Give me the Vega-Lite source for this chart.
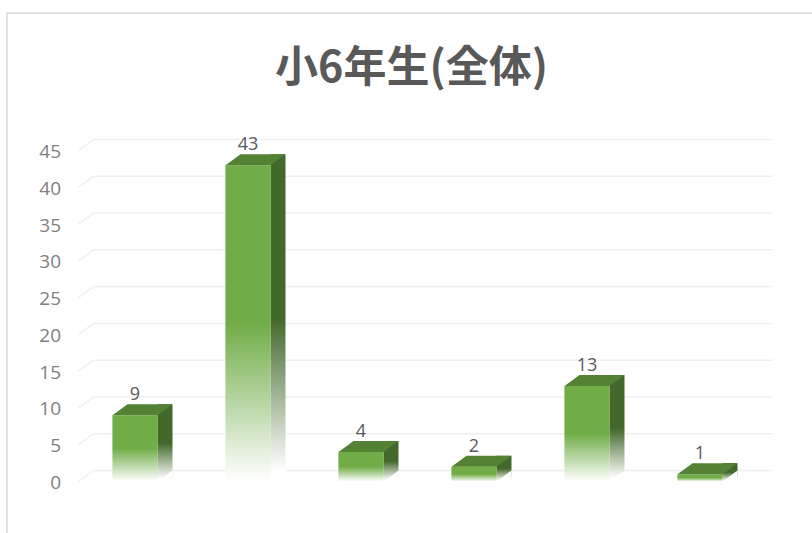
{
"$schema":"https://vega.github.io/schema/vega-lite/v6.json",
"width":678,"height":331,
"autosize":{"type":"none"},
"padding":{"left":78.5,"top":150.5,"right":55.5,"bottom":51.5},
"background":"white",
"config":{"view":{"stroke":null},"axisY":{"labelOverlap":false,"title":null,"grid":false,"domain":false,"ticks":false,"labelFont":"Open Sans","labelFontSize":19,"labelColor":"#7F7F7F","labelPadding":18,"labelOffset":1}},
"title":{"text":"小6年生(全体)","font":"Noto Sans CJK JP","fontSize":43,"fontWeight":"bold","color":"#595959","anchor":"middle","dx":-6,"offset":-81},
"datasets":{
"bars":[{"category":"1","value":9},{"category":"2","value":43},{"category":"3","value":4},{"category":"4","value":2},{"category":"5","value":13},{"category":"6","value":1}],
"ticks":[{"tick":0},{"tick":5},{"tick":10},{"tick":15},{"tick":20},{"tick":25},{"tick":30},{"tick":35},{"tick":40},{"tick":45}],
"frame":[{"part":"border"}]
},
"encoding":{"y":{"type":"quantitative","scale":{"domain":[0,45]},"axis":{"values":[0,5,10,15,20,25,30,35,40,45],"labelOverlap":false,"title":null}}},
"layer":[
{"data":{"name":"frame"},"mark":{"type":"point","shape":"M-4.105,2.17L-4.105,-3.03L3.945,-3.03","filled":false,"size":40000,"stroke":"#D9D9D9","strokeWidth":1.5,"opacity":1},"encoding":{"y":{"datum":22.5}}},
{"data":{"name":"ticks"},"mark":{"type":"point","shape":"M-3.39,0L-3.24,-0.11L3.55,-0.11","filled":false,"size":40000,"stroke":"#F0F0F0","strokeWidth":1.5,"opacity":1},
"encoding":{"y":{"field":"tick","type":"quantitative"}}},
{"data":{"name":"bars"},"mark":{"type":"bar","width":15,"xOffset":30,"yOffset":-11,"y2Offset":0,"color":{"gradient":"linear","x1":0,"y1":0,"x2":0,"y2":1,"stops":[{"offset":0,"color":"#43682B"},{"offset":0.5,"color":"#43682B"},{"offset":0.97,"color":"#FFFFFF"},{"offset":1,"color":"#FFFFFF"}]}},
"encoding":{"x":{"field":"category","type":"nominal","scale":{"paddingInner":0.6,"paddingOuter":0.3},"axis":null},"y":{"field":"value","type":"quantitative"},"y2":{"datum":0}}},
{"data":{"name":"bars"},"mark":{"type":"point","shape":"M0.225,0L0.375,0L0.375,-0.11Z","filled":true,"size":40000,"color":"#FFFFFF","strokeWidth":0,"opacity":1},
"encoding":{"x":{"field":"category","type":"nominal","axis":null},"y":{"datum":0}}},
{"data":{"name":"bars"},"mark":{"type":"bar","color":{"gradient":"linear","x1":0,"y1":0,"x2":0,"y2":1,"stops":[{"offset":0,"color":"#70AD47"},{"offset":0.5,"color":"#70AD47"},{"offset":1,"color":"#FFFFFF"}]}},
"encoding":{"x":{"field":"category","type":"nominal","axis":null},"y":{"field":"value","type":"quantitative"}}},
{"data":{"name":"bars"},"mark":{"type":"point","shape":"M-0.225,0L-0.075,-0.11L0.375,-0.11L0.225,0Z","filled":true,"size":40000,"color":"#548235","strokeWidth":0,"opacity":1},
"encoding":{"x":{"field":"category","type":"nominal","axis":null},"y":{"field":"value","type":"quantitative"}}},
{"data":{"name":"bars"},"mark":{"type":"text","font":"Open Sans","fontSize":18,"color":"#595959","baseline":"alphabetic","dy":-15},
"encoding":{"x":{"field":"category","type":"nominal","axis":null},"y":{"field":"value","type":"quantitative"},"text":{"field":"value","type":"quantitative"}}}
]
}
